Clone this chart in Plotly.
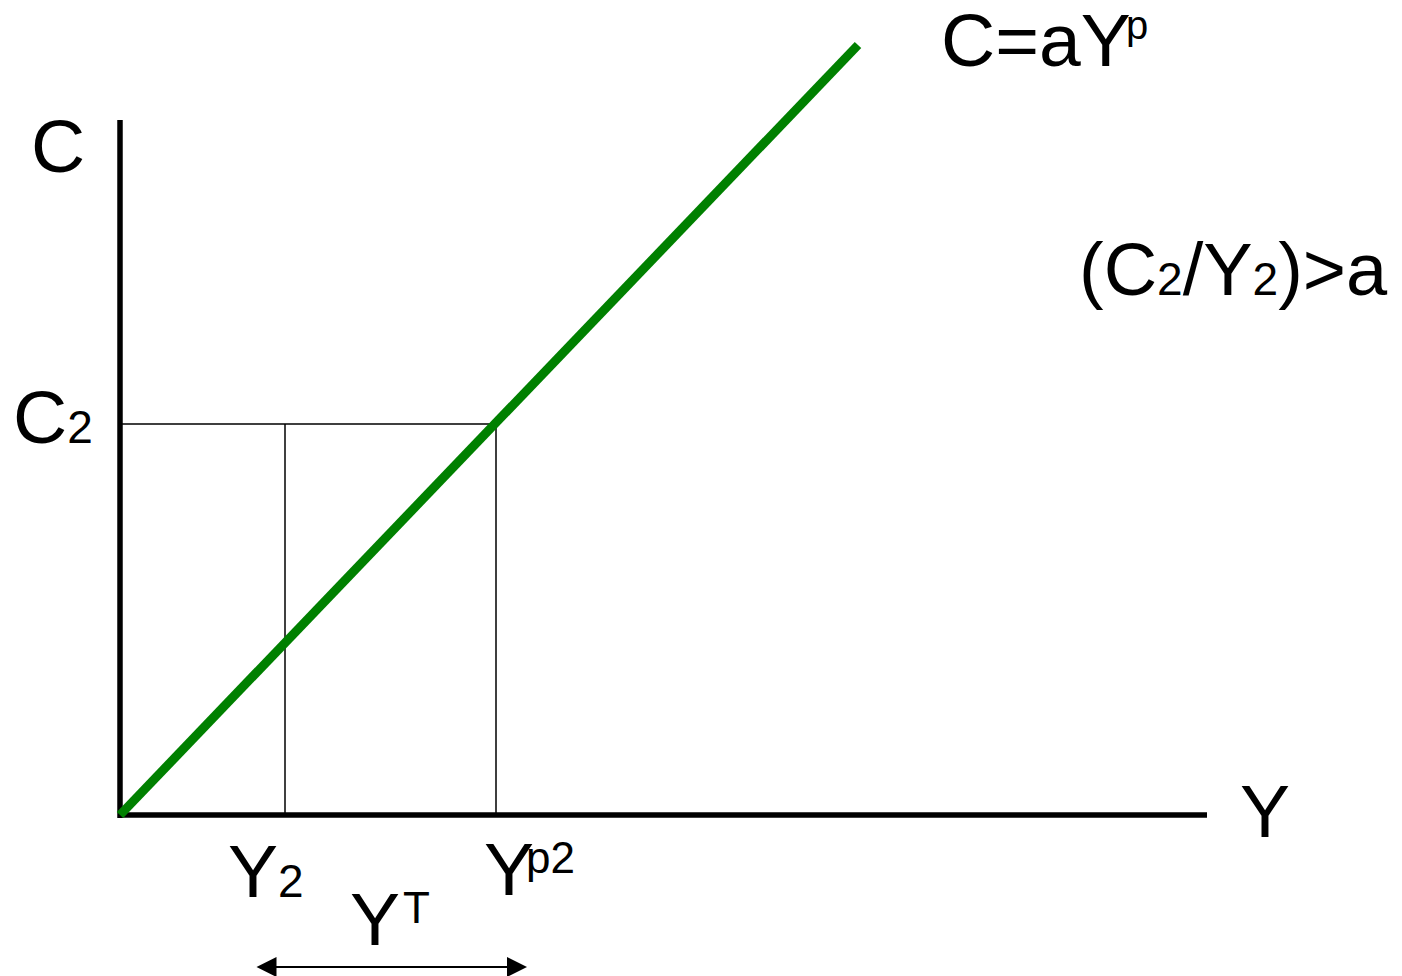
import plotly.graph_objects as go

# Data (units measured from the origin of the diagram)
cons_x = [0, 738]          # C = aY^p line
cons_y = [0, 770]
C2 = 391
Y2 = 165
Yp2 = 376
y_axis_top = 695
x_axis_right = 1087
arrow_left, arrow_right, arrow_level = 135, 407, -152

FONT = "Liberation Sans, Arial, sans-serif"
BIG = 75
SMALL = 46

fig = go.Figure()

# axes
fig.add_trace(go.Scatter(x=[0, 0], y=[-3, y_axis_top], mode="lines",
                         line=dict(color="black", width=5.5), hoverinfo="skip"))
fig.add_trace(go.Scatter(x=[0, x_axis_right], y=[0, 0], mode="lines",
                         line=dict(color="black", width=5.5), hoverinfo="skip"))
# guide lines
fig.add_trace(go.Scatter(x=[0, Yp2, Yp2], y=[C2, C2, 0], mode="lines",
                         line=dict(color="black", width=1.5), hoverinfo="skip"))
fig.add_trace(go.Scatter(x=[Y2, Y2], y=[C2, 0], mode="lines",
                         line=dict(color="black", width=1.5), hoverinfo="skip"))
# consumption function
fig.add_trace(go.Scatter(x=cons_x, y=cons_y, mode="lines",
                         line=dict(color="#008000", width=9), hoverinfo="skip"))

def label(x, y, text, size=BIG, xanchor="center", height=None):
    fig.add_annotation(x=x, y=y, text=text, showarrow=False,
                       xanchor=xanchor, yanchor="middle", height=height,
                       borderpad=0,
                       font=dict(family=FONT, size=size, color="black"))

sub = lambda s: f'<span style="font-size:{SMALL}px">{s}</span>'

label(-62, 669, "C")
label(-67, 398, "C" + sub("2"))
label(1145, 4, "Y")
label(146, -56, "Y" + sub("2"))
# Y^p2 (base + raised part)
label(415, -54, "Y", xanchor="right")
label(405, -42, "p2", size=44, xanchor="left")
# Y^T
label(281, -104, "Y", xanchor="right")
label(282, -92, "T", size=44, xanchor="left")
# C = aY^p
label(1012, 775, "C=aY", xanchor="right")
label(1005, 790, "p", size=40, xanchor="left")
label(1113, 546, "(C" + sub("2") + "/Y" + sub("2") + ")>a", size=74)

# double-headed arrow for Y^T
fig.add_annotation(x=arrow_right, y=arrow_level, ax=arrow_left, ay=arrow_level,
                   xref="x", yref="y", axref="x", ayref="y", text="",
                   showarrow=True, arrowhead=2, startarrowhead=2,
                   arrowside="end+start", arrowwidth=2, arrowsize=2,
                   startarrowsize=2, arrowcolor="black")

# page body has an 8px margin, so the figure is 8px smaller and offset
fig.update_layout(width=1394, height=968, margin=dict(l=0, r=0, t=0, b=0),
                  paper_bgcolor="white", plot_bgcolor="white", showlegend=False,
                  xaxis=dict(range=[-112, 1282], visible=False, fixedrange=True),
                  yaxis=dict(range=[-161, 807], visible=False, fixedrange=True))

fig.write_html("out.html")
